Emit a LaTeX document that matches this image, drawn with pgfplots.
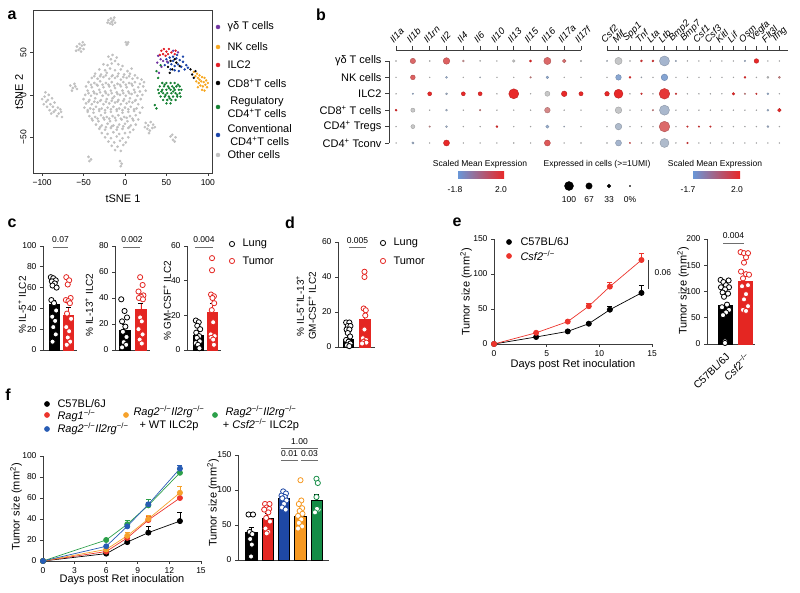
\documentclass[border=0pt]{standalone}
\usepackage{fontspec}
\setmainfont{Liberation Sans}
\usepackage{pgfplots}
\pgfplotsset{compat=1.18}

\definecolor{axgrey}{RGB}{60,60,60}
\definecolor{siggrey}{RGB}{110,110,110}
\definecolor{tpurple}{RGB}{112,52,160}
\definecolor{torange}{RGB}{246,166,30}
\definecolor{tred}{RGB}{226,28,36}
\definecolor{tgreen}{RGB}{20,128,50}
\definecolor{tblue}{RGB}{24,66,168}
\definecolor{tgrey}{RGB}{192,192,192}
\definecolor{gpred}{RGB}{228,38,34}
\definecolor{gpblue}{RGB}{30,72,165}
\definecolor{gporange}{RGB}{246,152,32}
\definecolor{gpgreen}{RGB}{20,140,70}
\definecolor{lnred}{RGB}{236,52,44}
\definecolor{lnblue}{RGB}{40,92,180}
\definecolor{lnorange}{RGB}{246,162,44}
\definecolor{lngreen}{RGB}{44,160,74}

\newcommand{\lab}{\fontsize{11}{13}\selectfont}
\newcommand{\smlab}{\fontsize{10}{12}\selectfont}
\newcommand{\sig}{\fontsize{8.5}{9}\selectfont}
\newcommand{\letter}{\fontsize{16}{16}\selectfont\bfseries}
\newcommand{\mm}{mm\textsuperscript{2}}
\newcommand{\ko}{\textsuperscript{−/−}}

\pgfplotsset{
  gp/.style={scale only axis, anchor=south west, clip=false,
    axis lines*=left, axis line style={line width=0.8pt, axgrey},
    tick align=outside, major tick length=3pt,
    tick style={line width=0.8pt, axgrey},
    tick label style={font=\fontsize{8.5}{9}\selectfont},
    /pgf/number format/assume math mode=true,
    error bars/error bar style={line width=0.8pt},
    error bars/error mark options={rotate=90, mark size=2.5pt, line width=0.8pt}},
  bargp/.style={gp, xtick=\empty},
  colormap={expr}{rgb255(0cm)=(105,150,215); rgb255(1.8cm)=(200,200,200); rgb255(3.8cm)=(232,40,40)},
  dots/.style={scatter, only marks, mark=*, scatter src=explicit,
    visualization depends on={\thisrow{r} \as \rr},
    scatter/@pre marker code/.append style={/tikz/mark size=\rr}},
  pts/.style={only marks, mark=*, mark size=2.6pt, mark options={fill=white, draw=#1, line width=0.8pt}},
}

\begin{document}
\begin{tikzpicture}

% ---------------- a: tSNE ----------------
\begin{axis}[scale only axis, anchor=south west, at={(33pt,420pt)}, width=179pt, height=163pt,
  xmin=-111, xmax=105, ymin=-92, ymax=100,
  xtick={-100,-50,0,50,100}, xticklabels={−100,−50,0,50,100},
  ytick={-50,0,50}, yticklabels={−50,0,50},
  xtick pos=left, ytick pos=left, tick align=outside, major tick length=3pt,
  axis line style={line width=0.7pt, axgrey}, tick style={line width=0.7pt, axgrey},
  tick label style={font=\fontsize{8.5}{9}\selectfont},
  yticklabel style={rotate=90, anchor=south}]
\addplot[only marks, mark=*, mark size=1.15pt, tgrey] coordinates {
(-20,45) (-15,47) (-10,44) (-17,42) (-12,40)
(-26,36) (-21,35) (-8,36) (-3,34) (-16,37)
(-31,30) (-24,29) (-18,31) (-12,29) (-5,30) (3,28) (8,31)
(-36,25) (-29,24) (-22,26) (-15,23) (-8,25) (-1,24) (6,25) (12,23)
(-40,20) (-33,19) (-26,21) (-19,19) (-12,20) (-5,18) (2,20) (9,19) (15,20) (20,18)
(-44,15) (-37,14) (-30,16) (-23,14) (-16,15) (-9,13) (-2,15) (5,14) (12,15) (18,13) (23,15)
(-47,10) (-40,9) (-33,11) (-26,9) (-19,10) (-12,8) (-5,10) (2,9) (9,11) (16,9) (22,10)
(-45,5) (-38,4) (-31,6) (-24,4) (-17,5) (-10,3) (-3,5) (4,4) (11,6) (18,4) (25,5)
(-48,0) (-41,-1) (-34,1) (-27,-1) (-20,0) (-13,-2) (-6,0) (1,-1) (8,1) (15,-1) (21,0)
(-50,-5) (-43,-6) (-36,-4) (-29,-6) (-22,-5) (-15,-4) (-8,-6) (-1,-5) (6,-4) (13,-6) (19,-5)
(-47,-10) (-40,-11) (-33,-9) (-26,-11) (-19,-10) (-12,-9) (-5,-11) (2,-10) (9,-9) (16,-11)
(-49,-15) (-42,-16) (-35,-14) (-28,-16) (-21,-15) (-14,-14) (-7,-16) (0,-15) (7,-14) (14,-16) (21,-15)
(-45,-20) (-38,-21) (-31,-19) (-24,-21) (-17,-20) (-10,-19) (-3,-21) (4,-20) (11,-19) (18,-21)
(-43,-25) (-36,-26) (-29,-24) (-22,-26) (-15,-25) (-8,-24) (-1,-26) (6,-25) (13,-24)
(-39,-30) (-32,-31) (-25,-29) (-18,-31) (-11,-30) (-4,-29) (3,-31) (10,-30) (16,-29)
(-35,-35) (-28,-36) (-21,-34) (-14,-36) (-7,-35) (0,-34) (7,-36) (13,-35)
(-31,-40) (-24,-41) (-17,-39) (-10,-41) (-3,-40) (4,-39) (10,-41)
(-28,-45) (-21,-46) (-14,-44) (-7,-46) (0,-45) (6,-44)
(-24,-50) (-17,-51) (-10,-49) (-3,-51) (4,-50)
(-20,-55) (-13,-56) (-6,-54) (1,-56)
(-16,-60) (-9,-61) (-2,-59) (-12,-65) (-5,-66)
(-37,22) (-30,22) (-23,23) (-16,22) (-9,22) (-2,21) (5,22)
(-41,12) (-34,12) (-27,12) (-20,12) (-13,11) (-6,12) (1,12) (8,13)
(-44,2) (-37,2) (-30,3) (-23,2) (-16,2) (-9,1) (-2,2) (5,2) (12,3)
(-44,-8) (-37,-8) (-30,-7) (-23,-8) (-16,-7) (-9,-8) (-2,-7) (5,-8) (12,-7)
(-45,-18) (-38,-17) (-31,-17) (-24,-18) (-17,-17) (-10,-17) (-3,-18) (4,-17) (11,-17)
(-40,-28) (-33,-28) (-26,-27) (-19,-28) (-12,-27) (-5,-28) (2,-27) (9,-28)
(-30,-38) (-23,-38) (-16,-37) (-9,-38) (-2,-37) (5,-38)
(-20,88) (-17,90) (-14,88) (-12,85) (-18,84) (-15,83) (-21,85) (-13,91) (-16,86)
(-58,57) (-55,60) (-52,58) (-50,54) (-56,53) (-53,51) (-59,52) (-49,59) (-54,55) (-51,62)
(1,62) (3,60) (2,59) (4,62)
(-100,-5) (-97,-2) (-95,-8) (-92,0) (-93,-6) (-90,-11) (-88,-4) (-87,-14) (-85,-9) (-84,-18)
(-81,-15) (-80,-22) (-77,-20) (-76,-26) (-98,-11) (-94,-14) (-91,-18) (-89,-22) (-86,-20)
(-96,3) (-82,-25) (-78,-17)
(-66,11) (-63,8) (-60,10) (-64,5) (-61,13) (-58,7)
(25,-33) (28,-36) (31,-32) (34,-35) (27,-40) (30,-42) (33,-39) (36,-38) (24,-38) (29,-45)
(55,-49) (58,-53) (61,-50) (57,-47) (60,-55)
(-44,-73) (-41,-76) (-43,-78) (-6,-78) (-4,-81) (-5,-84)
};
\addplot[only marks, mark=*, mark size=1pt, tgreen] coordinates {
(45,14) (50,14) (55,14) (60,14)
(42,10) (47,10) (52,10) (57,10) (62,10) (66,10)
(40,6) (45,6) (50,6) (55,6) (60,6) (65,6) (68,6)
(41,2) (46,2) (51,2) (56,2) (61,2) (66,2)
(43,-2) (48,-2) (53,-2) (58,-2) (63,-2) (67,-2)
(46,-6) (51,-6) (56,-6) (61,-6) (50,-10) (55,-10)
(38,-16) (36,-12) (40,20) (38,28) (43,35)
(48,12) (53,8) (58,4) (63,0) (44,4) (49,0) (54,-4) (59,8) (64,12)
};
\addplot[only marks, mark=*, mark size=1pt, torange] coordinates {
(85,22) (88,20) (90,23) (93,21) (96,20) (98,17) (95,15) (92,16) (89,14) (86,16) (91,11)
(94,10) (97,12) (99,9) (93,6) (96,5) (88,9) (100,14) (90,18) (87,25) (83,27)
};
\addplot[only marks, mark=*, mark size=1pt, tblue] coordinates {
(50,42) (54,44) (58,45) (62,43) (66,41) (70,39) (52,38) (56,36) (60,34) (64,36) (68,33)
(55,30) (60,29) (65,28) (72,30) (48,35) (58,40) (63,47) (70,45) (74,35) (76,32)
};
\addplot[only marks, mark=*, mark size=1pt, tred] coordinates {
(44,52) (47,54) (50,51) (52,48) (46,48) (49,46) (53,54) (42,47) (56,50) (60,48) (61,52)
};
\addplot[only marks, mark=*, mark size=1pt, tpurple] coordinates {
(40,46) (43,42) (46,40) (51,39) (39,38) (44,33) (58,52) (64,50) (41,26)
};
\addplot[only marks, mark=*, mark size=1pt, black] coordinates {
(55,40) (60,42) (52,33) (57,30) (66,34) (81,24) (83,20) (85,28) (79,30) (62,38) (54,26)
};
\end{axis}

% ---------------- b: dot plot, left group ----------------
\begin{axis}[scale only axis, anchor=south west, at={(389pt,450pt)}, width=192pt, height=93pt,
  clip=false, xmin=-0.42, xmax=11, ymin=0, ymax=5.67,
  axis line style={draw=none}, tick align=outside, major tick length=4pt,
  tick style={line width=0.8pt, axgrey},
  xtick={0,...,11}, xticklabels={Il1a,Il1b,Il1rn,Il2,Il4,Il6,Il10,Il13,Il15,Il16,Il17a,Il17f},
  xtick pos=right, xticklabel pos=right,
  xticklabel style={rotate=45, anchor=south west, xshift=-3pt, font=\fontsize{9.5}{10}\selectfont\itshape},
  ytick={0,...,5}, yticklabels={CD4\textsuperscript{+} Tconv, CD4\textsuperscript{+} Tregs, CD8\textsuperscript{+} T cells, ILC2, NK cells, γδ T cells},
  ytick pos=left, yticklabel style={font=\fontsize{11}{12}\selectfont},
  colormap name=expr, point meta min=-1.8, point meta max=2.0]
\draw[axgrey, line width=0.8pt] (axis cs:-0.42,0) -- (axis cs:-0.42,5);
\draw[axgrey, line width=0.8pt] (axis cs:0,5.67) -- (axis cs:11,5.67);
\addplot[dots] table[x=x, y=y, meta=c] {
x y c r
0 5 0 0.6
1 5 1.2 2.7
2 5 0 0.6
3 5 1.3 3.3
4 5 0.6 1.0
5 5 0 0.6
6 5 0 0.5
7 5 0 1.3
8 5 2 1.1
9 5 1.2 3.6
10 5 1.1 1.8
11 5 0 0.8
0 4 0 0.5
1 4 1.3 2.4
2 4 0 0.5
3 4 -0.8 1.0
4 4 0 0.5
5 4 -0.3 0.6
6 4 0 0.5
7 4 0 0.5
8 4 0.8 0.8
9 4 -1.0 1.3
10 4 0 0.5
11 4 0 0.5
0 3 0 0.5
1 3 -0.8 0.7
2 3 2 2.0
3 3 -0.6 1.0
4 3 2 2.0
5 3 2 2.0
6 3 0 0.5
7 3 2 5.0
8 3 0 0.5
9 3 0 2.5
10 3 2 2.8
11 3 2 2.1
0 2 2 1.0
1 2 0 2.1
2 2 0 0.5
3 2 -0.6 1.0
4 2 0 0.5
5 2 0.8 0.8
6 2 0 0.5
7 2 0 0.5
8 2 0 0.5
9 2 0.8 2.8
10 2 0 0.5
11 2 0 0.5
0 1 0 0.5
1 1 0 2.0
2 1 0.6 0.8
3 1 -0.6 1.0
4 1 0 0.5
5 1 0 0.5
6 1 2 1.0
7 1 0 0.5
8 1 0 0.5
9 1 -0.9 1.6
10 1 -0.5 0.6
11 1 0 0.5
0 0 0 0.5
1 0 -0.7 1.1
2 0 0 0.5
3 0 2 3.0
4 0 0 0.5
5 0 0 0.5
6 0 0 0.5
7 0 0 0.5
8 0 0 0.5
9 0 1.4 3.0
10 0 0 0.5
11 0 0 0.5
};
\end{axis}

% ---------------- b: dot plot, right group ----------------
\begin{axis}[scale only axis, anchor=south west, at={(607pt,450pt)}, width=181pt, height=93pt,
  clip=false, xmin=0, xmax=15.75, ymin=0, ymax=5.67,
  axis line style={draw=none}, tick align=outside, major tick length=4pt,
  tick style={line width=0.8pt, axgrey},
  xtick={0,...,15}, xticklabels={Csf2,Mif,Spp1,Tnf,Lta,Ltb,Bmp2,Bmp7,Csf1,Csf3,Kitl,Lif,Osm,Vegfa,Flt3l,Ifng},
  xtick pos=right, xticklabel pos=right,
  xticklabel style={rotate=45, anchor=south west, xshift=-3pt, font=\fontsize{9.5}{10}\selectfont\itshape},
  ytick=\empty,
  colormap name=expr, point meta min=-1.7, point meta max=2.0]
\draw[axgrey, line width=0.8pt] (axis cs:0,5.67) -- (axis cs:15.75,5.67);
\addplot[dots] table[x=x, y=y, meta=c] {
x y c r
0 5 -0.3 0.7
1 5 0 3.6
2 5 0 0.5
3 5 1.8 1.0
4 5 1.8 1.0
5 5 -0.6 5.0
6 5 -0.5 0.7
7 5 0 0.5
8 5 0 0.5
9 5 0 0.5
10 5 0 0.5
11 5 0 0.5
12 5 -0.6 0.8
13 5 2 2.3
14 5 0 0.5
15 5 0 0.5
0 4 0 0.5
1 4 -1.1 2.8
2 4 2 1.0
3 4 -0.3 0.6
4 4 0 0.5
5 4 -1.2 3.3
6 4 0 0.5
7 4 0 0.5
8 4 0 0.5
9 4 0 0.5
10 4 0 0.5
11 4 0 0.5
12 4 2 1.0
13 4 0 0.5
14 4 0 1.0
15 4 0.8 1.0
0 3 2 2.3
1 3 2 4.5
2 3 0 0.5
3 3 1.8 0.9
4 3 0 0.5
5 3 1.8 5.3
6 3 1.8 0.8
7 3 0 0.5
8 3 0 0.5
9 3 0 0.5
10 3 0 0.5
11 3 2 1.3
12 3 0.8 0.8
13 3 1.8 0.8
14 3 -0.8 1.0
15 3 0 0.5
0 2 0 0.5
1 2 0 3.3
2 2 0 0.5
3 2 0 0.5
4 2 0.8 0.8
5 2 -0.5 5.0
6 2 0 0.5
7 2 0 0.5
8 2 0 0.5
9 2 0 0.5
10 2 0 0.5
11 2 0 0.5
12 2 0 0.5
13 2 0 0.5
14 2 -0.7 1.0
15 2 2 1.8
0 1 0 0.5
1 1 -0.4 3.3
2 1 0 0.5
3 1 0 0.5
4 1 0 0.5
5 1 1.2 5.3
6 1 0 0.5
7 1 1.8 0.8
8 1 1.8 0.8
9 1 1.8 0.8
10 1 0 0.5
11 1 0 0.5
12 1 0 0.5
13 1 0 0.5
14 1 -0.6 1.0
15 1 0 0.5
0 0 0 0.5
1 0 -0.6 3.0
2 0 1.5 0.7
3 0 0 0.5
4 0 0 0.5
5 0 -0.4 4.5
6 0 0 0.5
7 0 1.8 0.8
8 0 0 0.5
9 0 0 0.5
10 0 0 0.5
11 0 0 0.5
12 0 0 0.5
13 0 0 0.5
14 0 0 0.5
15 0 0 0.5
};
\end{axis}

% ---------------- c1 ----------------
\begin{axis}[bargp, at={(43pt,243pt)}, width=34pt, height=104pt,
  xmin=0.24, xmax=2.59, ymin=0, ymax=100, ytick={0,20,...,100}]
\addplot[ybar, bar width=10pt, bar shift=0pt, fill=black, draw=black,
  error bars/.cd, y dir=plus, y explicit] coordinates {(1,44.4) +- (0,3)};
\addplot[ybar, bar width=10pt, bar shift=0pt, fill=gpred, draw=gpred,
  error bars/.cd, y dir=plus, y explicit] coordinates {(2,33.8) +- (0,7.5)};
\addplot[pts=black] coordinates {(0.78,70) (0.95,69) (1.12,67) (0.85,66) (1.05,64) (0.9,62) (1.18,60) (0.82,48) (1.0,45) (1.15,38) (0.88,32) (1.08,28) (0.95,22) (1.12,15) (0.9,8)};
\addplot[pts=gpred] coordinates {(1.85,70) (2.05,67) (1.95,63) (2.15,50) (1.82,48) (2.0,47) (2.1,45) (1.9,35) (2.18,30) (1.85,22) (2.05,18) (1.95,12) (2.12,8) (1.88,5)};
\end{axis}

% ---------------- c2 ----------------
\begin{axis}[bargp, at={(115pt,243pt)}, width=35pt, height=104pt,
  xmin=0.42, xmax=2.55, ymin=0, ymax=80, ytick={0,20,...,80}]
\addplot[ybar, bar width=11pt, bar shift=0pt, fill=black, draw=black,
  error bars/.cd, y dir=plus, y explicit] coordinates {(1,15.5) +- (0,4)};
\addplot[ybar, bar width=11pt, bar shift=0pt, fill=gpred, draw=gpred,
  error bars/.cd, y dir=plus, y explicit] coordinates {(2,31) +- (0,5)};
\addplot[pts=black] coordinates {(0.8,39) (1.0,30) (1.15,25) (0.85,22) (1.05,18) (0.9,14) (1.12,10) (0.95,6) (1.1,4) (0.85,2)};
\addplot[pts=gpred] coordinates {(1.95,56) (2.1,50) (1.85,45) (2.15,42) (2.0,41) (1.88,40) (2.12,39) (1.95,25) (2.05,22) (1.85,16) (2.1,12) (1.92,8) (2.05,5)};
\end{axis}

% ---------------- c3 ----------------
\begin{axis}[bargp, at={(187pt,243pt)}, width=34pt, height=104pt,
  xmin=0.24, xmax=2.59, ymin=0, ymax=60, ytick={0,20,40,60}]
\addplot[ybar, bar width=10pt, bar shift=0pt, fill=black, draw=black,
  error bars/.cd, y dir=plus, y explicit] coordinates {(1,8.5) +- (0,2)};
\addplot[ybar, bar width=10pt, bar shift=0pt, fill=gpred, draw=gpred,
  error bars/.cd, y dir=plus, y explicit] coordinates {(2,22) +- (0,5)};
\addplot[pts=black] coordinates {(0.85,17) (1.05,16) (0.95,14) (1.15,12) (0.88,10) (1.08,8) (0.92,7) (1.12,5) (0.85,4) (1.0,3) (1.1,1)};
\addplot[pts=gpred] coordinates {(1.97,53) (1.97,46) (1.9,32) (2.1,31) (2.0,30) (2.12,27) (1.95,23) (2.05,16) (1.88,9) (2.15,8) (1.92,7) (2.05,6) (2.1,3)};
\end{axis}

% ---------------- d ----------------
\begin{axis}[bargp, at={(338pt,246pt)}, width=37pt, height=105pt,
  xmin=0.34, xmax=2.66, ymin=0, ymax=60, ytick={0,20,40,60}]
\addplot[ybar, bar width=10pt, bar shift=0pt, fill=black, draw=black,
  error bars/.cd, y dir=plus, y explicit] coordinates {(1,4.5) +- (0,1.2)};
\addplot[ybar, bar width=11pt, bar shift=0pt, fill=gpred, draw=gpred,
  error bars/.cd, y dir=plus, y explicit] coordinates {(2,16) +- (0,5.5)};
\addplot[pts=black] coordinates {(0.85,14) (1.05,14) (0.95,12) (1.12,12) (0.88,10) (1.05,10) (0.95,8) (1.1,6) (0.85,4) (1.0,3) (1.12,2) (0.9,1) (1.05,0.5)};
\addplot[pts=gpred] coordinates {(2.0,43) (2.0,40) (1.95,22) (2.08,21) (2.05,18) (2.0,10) (1.9,5) (2.1,4) (1.95,3) (2.12,2.5) (1.85,2)};
\end{axis}

% ---------------- e: growth curve ----------------
\begin{axis}[gp, at={(494pt,249pt)}, width=158pt, height=105pt,
  xmin=0, xmax=15, ymin=0, ymax=150, xtick={0,5,10,15}, ytick={0,50,100,150}]
\addplot[black, line width=0.7pt, mark=*, mark size=2.6pt,
  error bars/.cd, y dir=plus, y explicit] coordinates {
  (0,0) +- (0,0) (4,10) +- (0,1) (7,18) +- (0,1.5) (9,29) +- (0,2) (11,49) +- (0,5) (14,73) +- (0,10)};
\addplot[lnred, line width=0.7pt, mark=*, mark size=2.6pt,
  error bars/.cd, y dir=plus, y explicit] coordinates {
  (0,0) +- (0,0) (4,16) +- (0,1) (7,32) +- (0,2) (9,54) +- (0,4) (11,82) +- (0,6) (14,120) +- (0,10)};
\end{axis}

% ---------------- e: bars ----------------
\begin{axis}[gp, at={(707pt,249pt)}, width=48pt, height=105pt,
  xmin=0.1, xmax=2.5, ymin=0, ymax=200, ytick={0,50,...,200},
  xtick={1,2}, xticklabels={C57BL/6J, \textit{Csf2}\ko},
  xtick style={draw=none},
  xticklabel style={rotate=45, anchor=north east, font=\fontsize{10.5}{11}\selectfont}]
\addplot[ybar, bar width=14pt, bar shift=0pt, fill=black, draw=black] coordinates {(1,73)};
\addplot[ybar, bar width=14pt, bar shift=0pt, fill=gpred, draw=gpred] coordinates {(2,120)};
\addplot[pts=black] coordinates {(0.78,122) (1.18,121) (0.92,118) (1.05,112) (0.8,108) (1.2,108) (1.0,104) (0.88,98) (1.15,96) (0.95,90) (1.1,75) (0.85,70) (1.2,65) (1.05,60) (0.9,55) (1.0,5) (1.0,2)};
\addplot[pts=gpred] coordinates {(1.78,175) (1.95,173) (2.15,173) (2.05,165) (1.95,155) (1.8,138) (2.05,133) (2.2,132) (1.9,125) (2.15,112) (1.85,110) (2.05,95) (1.95,85) (2.15,72) (1.9,65) (2.05,63)};
\end{axis}

% ---------------- f: growth curve ----------------
\begin{axis}[gp, at={(43pt,32pt)}, width=158pt, height=105pt,
  xmin=0, xmax=15, ymin=0, ymax=100, xtick={0,3,...,15}, ytick={0,20,...,100}]
\addplot[black, line width=0.7pt, mark=*, mark size=2.6pt,
  error bars/.cd, y dir=plus, y explicit] coordinates {
  (0,0) +- (0,0) (6,7) +- (0,1) (8,18) +- (0,1.5) (10,27) +- (0,6) (13,38) +- (0,8)};
\addplot[lnred, line width=0.7pt, mark=*, mark size=2.6pt,
  error bars/.cd, y dir=plus, y explicit] coordinates {
  (0,0) +- (0,0) (6,9) +- (0,1) (8,22) +- (0,2) (10,39) +- (0,3) (13,60) +- (0,3)};
\addplot[lnorange, line width=0.7pt, mark=*, mark size=2.6pt,
  error bars/.cd, y dir=plus, y explicit] coordinates {
  (0,0) +- (0,0) (6,11) +- (0,1) (8,24) +- (0,3) (10,40) +- (0,3) (13,65) +- (0,6)};
\addplot[lngreen, line width=0.7pt, mark=*, mark size=2.6pt,
  error bars/.cd, y dir=plus, y explicit] coordinates {
  (0,0) +- (0,0) (6,20) +- (0,1.5) (8,35) +- (0,4) (10,53) +- (0,6) (13,84) +- (0,3)};
\addplot[lnblue, line width=0.7pt, mark=*, mark size=2.6pt,
  error bars/.cd, y dir=plus, y explicit] coordinates {
  (0,0) +- (0,0) (6,14) +- (0,1) (8,33) +- (0,2) (10,54) +- (0,2) (13,88) +- (0,3)};
\end{axis}

% ---------------- f: bars ----------------
\begin{axis}[bargp, at={(238pt,33pt)}, width=91pt, height=105pt,
  xmin=0.21, xmax=5.73, ymin=0, ymax=150, ytick={0,50,100,150}]
\addplot[ybar, bar width=11.5pt, bar shift=0pt, fill=black, draw=black,
  error bars/.cd, y dir=plus, y explicit] coordinates {(1,39) +- (0,7)};
\addplot[ybar, bar width=11.5pt, bar shift=0pt, fill=gpred, draw=black, line width=0.5pt,
  error bars/.cd, y dir=plus, y explicit] coordinates {(2,60) +- (0,6)};
\addplot[ybar, bar width=11.5pt, bar shift=0pt, fill=gpblue, draw=black, line width=0.5pt,
  error bars/.cd, y dir=plus, y explicit] coordinates {(3,88) +- (0,4)};
\addplot[ybar, bar width=11.5pt, bar shift=0pt, fill=gporange, draw=black, line width=0.5pt,
  error bars/.cd, y dir=plus, y explicit] coordinates {(4,62) +- (0,6)};
\addplot[ybar, bar width=11.5pt, bar shift=0pt, fill=gpgreen, draw=black, line width=0.5pt,
  error bars/.cd, y dir=plus, y explicit] coordinates {(5,86) +- (0,7)};
\addplot[pts=black] coordinates {(0.85,65) (1.12,65) (0.92,40) (1.08,37) (0.95,30) (1.05,22) (1.0,5)};
\addplot[pts=gpred] coordinates {(1.85,80) (2.12,80) (1.95,75) (2.1,73) (1.8,72) (2.05,68) (1.92,60) (2.15,55) (1.88,45) (2.05,40) (1.95,38)};
\addplot[pts=gpblue] coordinates {(2.95,98) (3.12,95) (2.85,92) (3.05,90) (2.9,88) (3.15,85) (3.0,80) (2.88,75) (3.1,72)};
\addplot[pts=gporange] coordinates {(4.0,114) (4.05,85) (3.9,80) (4.1,74) (3.95,70) (4.12,66) (3.85,63) (4.05,58) (3.9,53) (4.1,48) (3.85,45)};
\addplot[pts=gpgreen] coordinates {(4.97,116) (5.05,110) (4.97,90) (5.1,72) (4.9,70) (5.0,73) (4.88,68)};
\end{axis}

% ---------------- overlay: legends, labels, annotations (pixel coordinates) ----------------
\begin{axis}[scale only axis, anchor=south west, at={(0pt,0pt)}, width=800pt, height=593pt,
  xmin=0, xmax=800, ymin=0, ymax=593, y dir=reverse, hide axis, clip=false]
% legend markers
\addplot[only marks, mark=*, mark size=2pt, tpurple] coordinates {(218,27)};
\addplot[only marks, mark=*, mark size=2pt, torange] coordinates {(218,47)};
\addplot[only marks, mark=*, mark size=2pt, tred] coordinates {(218,65)};
\addplot[only marks, mark=*, mark size=2pt, black] coordinates {(218,83)};
\addplot[only marks, mark=*, mark size=2pt, tgreen] coordinates {(218,107)};
\addplot[only marks, mark=*, mark size=2pt, tblue] coordinates {(218,135)};
\addplot[only marks, mark=*, mark size=2pt, tgrey] coordinates {(218,155)};
\addplot[only marks, mark=*, black, mark size=4.5pt] coordinates {(569,186)};
\addplot[only marks, mark=*, black, mark size=3.2pt] coordinates {(589,186)};
\addplot[only marks, mark=*, black, mark size=1.8pt] coordinates {(609,186)};
\addplot[only marks, mark=*, black, mark size=0.6pt] coordinates {(630,186)};
\addplot[pts=black] coordinates {(232,244) (383,243)};
\addplot[pts=gpred] coordinates {(232,261) (383,261)};
\addplot[only marks, mark=*, mark size=2.6pt, black] coordinates {(509,242) (47,404)};
\addplot[only marks, mark=*, mark size=2.6pt, lnred] coordinates {(509,256) (47,415)};
\addplot[only marks, mark=*, mark size=2.6pt, lnblue] coordinates {(47,429)};
\addplot[only marks, mark=*, mark size=2.6pt, lnorange] coordinates {(126,415)};
\addplot[only marks, mark=*, mark size=2.6pt, lngreen] coordinates {(215,415)};

% panel letters
\node[font=\letter] at (axis cs:12,15) {a};
\node[font=\letter] at (axis cs:321,15) {b};
\node[font=\letter] at (axis cs:12,223) {c};
\node[font=\letter] at (axis cs:290,223) {d};
\node[font=\letter] at (axis cs:457,222) {e};
\node[font=\letter] at (axis cs:8,395) {f};

% a
\node[font=\lab, rotate=90] at (axis cs:19,92) {tSNE 2};
\node[font=\lab] at (axis cs:123,199) {tSNE 1};
\node[font=\lab, anchor=west] at (axis cs:224,27) {γδ T cells};
\node[font=\lab, anchor=west] at (axis cs:224,47) {NK cells};
\node[font=\lab, anchor=west] at (axis cs:224,65) {ILC2};
\node[font=\lab, anchor=west] at (axis cs:224,83) {CD8\textsuperscript{+}T cells};
\node[font=\lab, anchor=west, align=center] at (axis cs:224,107) {Regulatory\\CD4\textsuperscript{+}T cells};
\node[font=\lab, anchor=west, align=center] at (axis cs:224,135) {Conventional\\CD4\textsuperscript{+}T cells};
\node[font=\lab, anchor=west] at (axis cs:224,155) {Other cells};

% b legends
\node[font=\sig] at (axis cs:480,164) {Scaled Mean Expression};
\shade[left color={rgb,255:red,105;green,150;blue,215}, middle color={rgb,255:red,200;green,200;blue,200}, right color={rgb,255:red,232;green,40;blue,40}] (axis cs:458,172) rectangle (axis cs:504,179);
\node[font=\sig] at (axis cs:455,190) {-1.8};
\node[font=\sig] at (axis cs:501,190) {2.0};
\node[font=\sig] at (axis cs:597,164) {Expressed in cells (>=1UMI)};
\node[font=\sig] at (axis cs:569,200) {100};
\node[font=\sig] at (axis cs:589,200) {67};
\node[font=\sig] at (axis cs:609,200) {33};
\node[font=\sig] at (axis cs:630,200) {0\%};
\node[font=\sig] at (axis cs:715,164) {Scaled Mean Expression};
\shade[left color={rgb,255:red,105;green,150;blue,215}, middle color={rgb,255:red,200;green,200;blue,200}, right color={rgb,255:red,232;green,40;blue,40}] (axis cs:693,172) rectangle (axis cs:740,179);
\node[font=\sig] at (axis cs:688,190) {-1.7};
\node[font=\sig] at (axis cs:737,190) {2.0};

% c
\node[font=\smlab, rotate=90] at (axis cs:22,305) {\% IL-5\textsuperscript{+} ILC2};
\node[font=\smlab, rotate=90] at (axis cs:89,305) {\% IL-13\textsuperscript{+} ILC2};
\node[font=\smlab, rotate=90] at (axis cs:167,301) {\% GM-CSF\textsuperscript{+} ILC2};
\node[font=\lab, anchor=west] at (axis cs:239,244) {Lung};
\node[font=\lab, anchor=west] at (axis cs:239,261) {Tumor};
\draw[siggrey, line width=0.8pt] (axis cs:53,247) -- (axis cs:68,247);
\node[font=\sig] at (axis cs:60.5,240) {0.07};
\draw[siggrey, line width=0.8pt] (axis cs:123,247) -- (axis cs:140,247);
\node[font=\sig] at (axis cs:132,240) {0.002};
\draw[siggrey, line width=0.8pt] (axis cs:195,247) -- (axis cs:213,247);
\node[font=\sig] at (axis cs:204,240) {0.004};

% d
\node[font=\smlab, rotate=90, align=center] at (axis cs:306,306) {\% IL-5\textsuperscript{+}IL-13\textsuperscript{+}\\GM-CSF\textsuperscript{+} ILC2};
\node[font=\lab, anchor=west] at (axis cs:390,243) {Lung};
\node[font=\lab, anchor=west] at (axis cs:390,261) {Tumor};
\draw[siggrey, line width=0.8pt] (axis cs:349,247) -- (axis cs:366,247);
\node[font=\sig] at (axis cs:357.5,241) {0.005};

% e
\node[font=\lab, rotate=90] at (axis cs:466,292) {Tumor size (\mm)};
\node[font=\lab] at (axis cs:573,365) {Days post Ret inoculation};
\node[font=\lab, rotate=90] at (axis cs:683,291) {Tumor size (\mm)};
\node[font=\lab, anchor=west] at (axis cs:517,242) {C57BL/6J};
\node[font=\lab, anchor=west] at (axis cs:517,256) {\textit{Csf2}\ko};
\draw[axgrey, line width=0.8pt] (axis cs:648,260) -- (axis cs:648,289);
\node[font=\sig, anchor=west] at (axis cs:651,273) {0.06};
\draw[siggrey, line width=0.8pt] (axis cs:723,243) -- (axis cs:744,243);
\node[font=\sig] at (axis cs:733.5,236) {0.004};

% f
\node[font=\lab, rotate=90] at (axis cs:16,507) {Tumor size (\mm)};
\node[font=\lab] at (axis cs:122,580) {Days post Ret inoculation};
\node[font=\lab, rotate=90] at (axis cs:213,503) {Tumor size (\mm)};
\node[font=\lab, anchor=west] at (axis cs:54,404) {C57BL/6J};
\node[font=\lab, anchor=west] at (axis cs:54,416) {\textit{Rag1}\ko};
\node[font=\lab, anchor=west] at (axis cs:54,429) {\textit{Rag2}\ko\textit{Il2rg}\ko};
\node[font=\lab, align=center] at (axis cs:169,418) {\textit{Rag2}\ko\textit{Il2rg}\ko\\+ WT ILC2p};
\node[font=\lab, align=center] at (axis cs:261,418) {\textit{Rag2}\ko\textit{Il2rg}\ko\\+ \textit{Csf2}\ko{} ILC2p};
\draw[siggrey, line width=0.8pt] (axis cs:281,448) -- (axis cs:318,448);
\node[font=\sig] at (axis cs:299.5,442) {1.00};
\draw[siggrey, line width=0.8pt] (axis cs:281,460) -- (axis cs:298,460);
\node[font=\sig] at (axis cs:289.5,454) {0.01};
\draw[siggrey, line width=0.8pt] (axis cs:301,460) -- (axis cs:318,460);
\node[font=\sig] at (axis cs:309.5,454) {0.03};
\end{axis}

\pgfresetboundingbox
\useasboundingbox (0pt,0pt) rectangle (800pt,593pt);
\end{tikzpicture}
\end{document}
